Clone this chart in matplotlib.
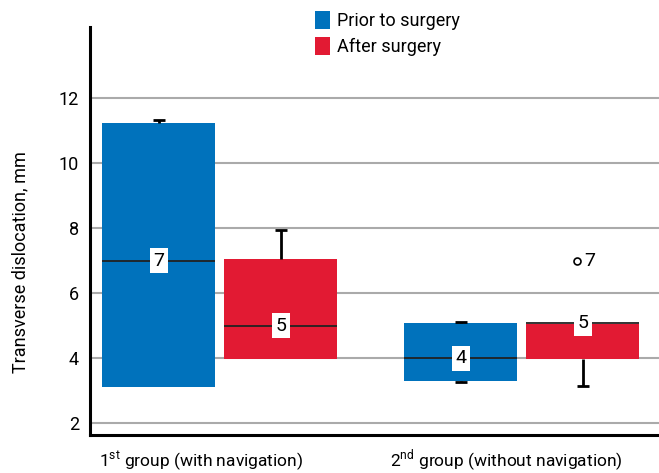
import matplotlib
matplotlib.use("Agg")
import matplotlib.pyplot as plt
import numpy as np

# Fuente parecida a la del original
plt.rcParams['font.family'] = ['Roboto', 'DejaVu Sans']
plt.rcParams['mathtext.fontset'] = 'custom'
plt.rcParams['mathtext.rm'] = 'Roboto'

# Datos
grupos = ['1$^{\\mathrm{st}}$ group (with navigation)', '2$^{\\mathrm{nd}}$ group (without navigation)']
series = ['Prior to surgery', 'After surgery']
q1 = [[3.1, 3.97], [3.28, 3.98]]
q3 = [[11.25, 7.06], [5.07, 5.05]]
mediana = [[7, 5], [4, 5.08]]
mediana_txt = [['7', '5'], ['4', '5']]
bigote_inf = [[3.1, 3.97], [3.25, 3.15]]
bigote_sup = [[11.32, 7.95], [5.1, 5.08]]
atipicos = [[[], []], [[], [7]]]
colores = ['#0072BC', '#E21A33']

fig = plt.figure(figsize=(6.59, 4.73), dpi=100)
ax = fig.add_axes([90/659, 38/473, 569/659, 408/473])

ancho = 0.374
desp = 0.202
for g in range(len(grupos)):
    for s in range(len(series)):
        x = g + (s - 0.5) * 2 * desp
        ax.bar(x, q3[g][s] - q1[g][s], bottom=q1[g][s], width=ancho,
               color=colores[s], zorder=2, label=series[s] if g == 0 else None)
        # bigotes
        if bigote_sup[g][s] > q3[g][s]:
            ax.vlines(x, q3[g][s], bigote_sup[g][s], color='k', lw=2, zorder=3)
            ax.hlines(bigote_sup[g][s], x - 0.02, x + 0.02, color='k', lw=2, zorder=3)
        if bigote_inf[g][s] < q1[g][s]:
            ax.vlines(x, bigote_inf[g][s], q1[g][s], color='k', lw=2, zorder=3)
            ax.hlines(bigote_inf[g][s], x - 0.02, x + 0.02, color='k', lw=2, zorder=3)
        # mediana
        ax.hlines(mediana[g][s], x - ancho/2, x + ancho/2, color='#222222', lw=1.3, zorder=3)
        ax.text(x, mediana[g][s], mediana_txt[g][s], ha='center', va='center', fontsize=14,
                zorder=4, bbox=dict(facecolor='white', edgecolor='none', pad=2.5))
        for v in atipicos[g][s]:
            ax.plot(x - 0.018, v, 'o', ms=5, mfc='white', mec='k', mew=1.2, zorder=4)
            ax.text(x + 0.005, v, '%g' % v, ha='left', va='center', fontsize=14)

ax.set_xlim(-0.429, 1.455)
ax.set_ylim(1.63, 14.2)
ax.set_yticks(np.arange(2, 13, 2))
ax.set_yticklabels([str(v) for v in range(2, 13, 2)], fontsize=13)
ax.set_xticks([])
ax.tick_params(axis='y', length=0, pad=8)
ax.yaxis.grid(True, color='#AAAAAA', lw=1.5, zorder=0)
ax.set_axisbelow(True)
for lado in ['top', 'right']:
    ax.spines[lado].set_visible(False)
for lado in ['left', 'bottom']:
    ax.spines[lado].set_linewidth(2.2)

for g in range(len(grupos)):
    ax.text(g - 0.06 if g == 0 else g - 0.05, 0.82, grupos[g], ha='center', va='center', fontsize=12.5)

fig.text(20/659, 1 - 262/473, 'Transverse dislocation, mm', rotation=90, ha='center', va='center', fontsize=13)

ax.legend(loc='upper left', bbox_to_anchor=(218/569, 1 + 23/408), frameon=False, fontsize=13,
          handlelength=0.8, handleheight=1.1, handletextpad=0.4, labelspacing=0.4, borderaxespad=0)

fig.savefig('out.png', dpi=100)
